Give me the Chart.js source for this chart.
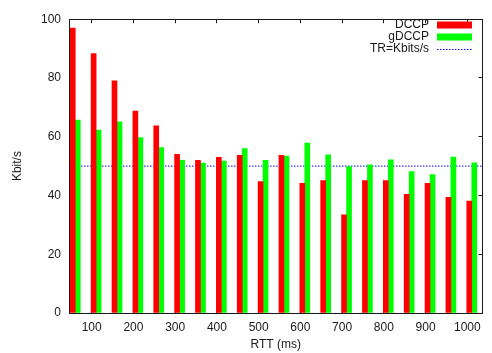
<!DOCTYPE html>
<html>
<head>
<meta charset="utf-8">
<script src="https://cdn.jsdelivr.net/npm/chart.js@4.4.0/dist/chart.umd.min.js"></script>
<style>
  html, body { margin: 0; padding: 0; background: #fff; }
  #wrap { width: 492px; height: 353px; }
</style>
</head>
<body>
<div id="wrap"><canvas id="rttChart" width="492" height="353"></canvas></div>
<script>
// RTT steps (ms) and measured throughput (Kbit/s)
const rtt = [50, 100, 150, 200, 250, 300, 350, 400, 450, 500,
             550, 600, 650, 700, 750, 800, 850, 900, 950, 1000];
const dccp = [97.0, 88.3, 79.0, 68.7, 63.7, 54.0, 52.0, 53.0, 53.7, 44.7,
              53.7, 44.1, 45.1, 33.4, 45.1, 45.1, 40.4, 44.1, 39.4, 38.1];
const gdccp = [65.7, 62.3, 65.1, 59.7, 56.3, 52.0, 51.0, 51.7, 56.0, 52.0,
               53.4, 57.8, 53.8, 49.8, 50.4, 52.1, 48.1, 47.1, 53.1, 51.1];
const trRate = 50;

const xTicks = [100, 200, 300, 400, 500, 600, 700, 800, 900, 1000];
const yTicks = [0, 20, 40, 60, 80, 100];

// bars sit a bit right of the labelled ticks, so they get their own axis
const barMin = 35, barMax = 1026;
const tickMin = 45.6, tickMax = 1036.7;

const FONT = '"Liberation Sans", Arial, Helvetica, sans-serif';
const INK = '#1a1a1a';

// key in the top right corner: label first, sample after it
const keyBox = {
  id: 'keyBox',
  afterDraw(chart) {
    const c = chart.ctx;
    const textRight = 429, sampleLeft = 437, sampleRight = 472;
    c.save();
    c.font = '12px ' + FONT;
    c.textAlign = 'right';
    c.textBaseline = 'middle';
    chart.data.datasets.forEach((ds, i) => {
      const cy = 24.5 + i * 12;
      c.fillStyle = INK;
      c.fillText(ds.label, textRight, cy);
      if (ds.type === 'line') {
        c.fillStyle = ds.borderColor;
        for (let x = sampleLeft; x < sampleRight; x += 3) {
          c.fillRect(x, Math.round(cy), 1.5, 1);
        }
      } else {
        c.fillStyle = ds.backgroundColor;
        c.fillRect(sampleLeft, Math.round(cy) - 3.5, sampleRight - sampleLeft, 7);
      }
    });
    c.restore();
  }
};

// negative tick length turns the tick marks inward
const inwardTicks = { display: true, drawOnChartArea: false, drawTicks: true, tickLength: -4, color: INK };
const frameEdge = { display: true, color: INK, width: 1 };
const noGrid = { display: false, drawTicks: false };
const setXTicks = s => { s.ticks = xTicks.map(v => ({ value: v })); };
const setYTicks = s => { s.ticks = yTicks.map(v => ({ value: v })); };

new Chart(document.getElementById('rttChart'), {
  data: {
    datasets: [
      {
        type: 'bar',
        label: 'DCCP',
        data: rtt.map((r, i) => ({ x: r, y: dccp[i] })),
        backgroundColor: '#ff0000',
        xAxisID: 'xBars',
        barThickness: 5,
        borderWidth: 0
      },
      {
        type: 'bar',
        label: 'gDCCP',
        data: rtt.map((r, i) => ({ x: r, y: gdccp[i] })),
        backgroundColor: '#00ff00',
        xAxisID: 'xBars',
        barThickness: 5,
        borderWidth: 0
      },
      {
        type: 'line',
        label: 'TR=Kbits/s',
        data: [{ x: barMin, y: trRate }, { x: barMax, y: trRate }],
        borderColor: '#0000ff',
        borderWidth: 1,
        borderDash: [1.5, 1.5],
        pointRadius: 0,
        xAxisID: 'xBars'
      }
    ]
  },
  options: {
    responsive: false,
    animation: false,
    // the zero-size top/right axes still reserve a few pixels
    layout: { padding: { top: 7, right: -2, left: 0, bottom: 0 } },
    plugins: {
      legend: { display: false },
      tooltip: { enabled: false }
    },
    scales: {
      // zero-height axis that only places the bars
      xBars: {
        type: 'linear',
        position: 'bottom',
        offset: false,
        min: barMin,
        max: barMax,
        afterFit: s => { s.height = 0; },
        grid: noGrid,
        border: { display: false },
        ticks: { display: false }
      },
      x: {
        type: 'linear',
        position: 'bottom',
        offset: false,
        min: tickMin,
        max: tickMax,
        afterBuildTicks: setXTicks,
        afterFit: s => { s.height = 40; },
        grid: inwardTicks,
        border: frameEdge,
        ticks: {
          font: { family: FONT, size: 12 },
          color: INK,
          padding: 11,
          maxRotation: 0,
          autoSkip: false,
          callback: v => String(v)
        },
        title: {
          display: true,
          text: 'RTT (ms)',
          font: { family: FONT, size: 12 },
          color: INK,
          padding: { top: 0, bottom: 1.5 }
        }
      },
      xTop: {
        type: 'linear',
        position: 'top',
        offset: false,
        min: tickMin,
        max: tickMax,
        afterBuildTicks: setXTicks,
        afterFit: s => { s.height = 0; },
        grid: inwardTicks,
        border: frameEdge,
        ticks: { display: false }
      },
      y: {
        min: 0,
        max: 100,
        afterBuildTicks: setYTicks,
        afterFit: s => { s.width = 69; },
        grid: inwardTicks,
        border: frameEdge,
        ticks: {
          font: { family: FONT, size: 12 },
          color: INK,
          padding: 12
        },
        title: {
          display: true,
          text: 'Kbit/s',
          font: { family: FONT, size: 12 },
          color: INK,
          padding: { top: 10, bottom: 0 }
        }
      },
      yRight: {
        type: 'linear',
        position: 'right',
        min: 0,
        max: 100,
        afterBuildTicks: setYTicks,
        afterFit: s => { s.width = 0; },
        grid: inwardTicks,
        border: frameEdge,
        ticks: { display: false }
      }
    }
  },
  plugins: [keyBox]
});
</script>
</body>
</html>
